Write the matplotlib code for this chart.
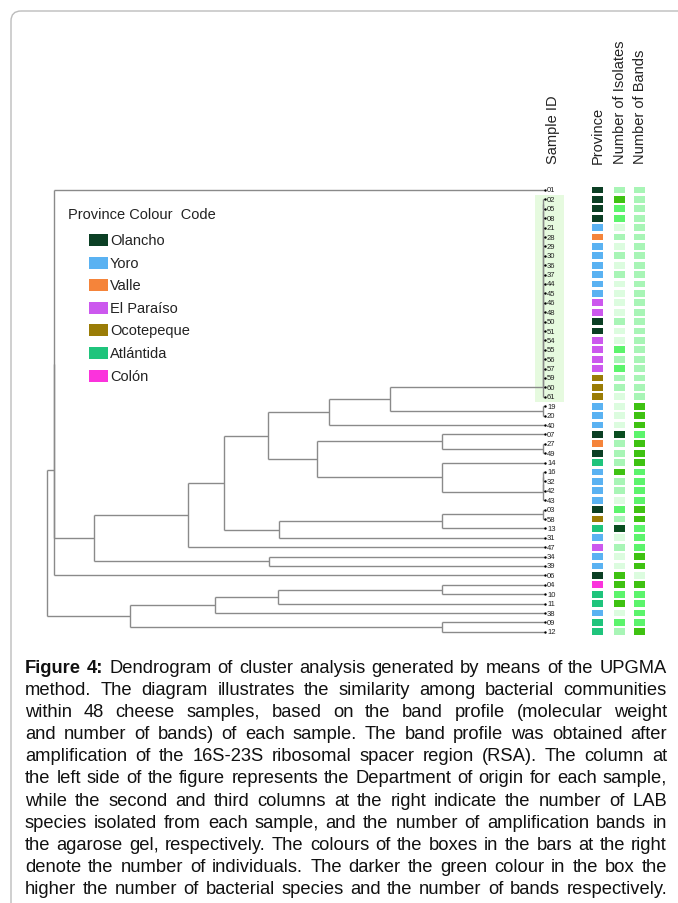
import matplotlib
matplotlib.use('Agg')
import matplotlib.pyplot as plt
from matplotlib.patches import Rectangle, FancyBboxPatch
from matplotlib.font_manager import FontProperties

W, H = 678, 904

# ---------------- data ----------------
sample_ids = ['01', '02', '05', '08', '21', '28', '29', '30', '36', '37', '44', '45',
              '46', '48', '50', '51', '54', '55', '56', '57', '59', '60', '61',
              '19', '20', '40', '07', '27', '49', '14', '16', '32', '42', '43',
              '03', '58', '13', '31', '47', '34', '39', '06', '04', '10', '11',
              '38', '09', '12']

provinces = ['Olancho', 'Olancho', 'Olancho', 'Olancho', 'Yoro', 'Valle', 'Yoro', 'Yoro',
             'Yoro', 'Yoro', 'Yoro', 'Yoro', 'El Paraíso', 'El Paraíso', 'Olancho',
             'Olancho', 'El Paraíso', 'El Paraíso', 'El Paraíso', 'El Paraíso',
             'Ocotepeque', 'Ocotepeque', 'Ocotepeque',
             'Yoro', 'Yoro', 'Yoro', 'Olancho', 'Valle', 'Olancho', 'Atlántida',
             'Yoro', 'Yoro', 'Yoro', 'Yoro', 'Olancho', 'Ocotepeque', 'Atlántida',
             'Yoro', 'El Paraíso', 'Yoro', 'Yoro', 'Olancho', 'Colón', 'Atlántida',
             'Atlántida', 'Yoro', 'Atlántida', 'Atlántida']

# colour level (1 = palest ... 5 = darkest)
isolates = [2, 4, 3, 3, 1, 2, 1, 2, 1, 2, 1, 1, 1, 1, 2,
            1, 1, 3, 2, 3, 2, 2, 1,
            1, 1, 1, 5, 2, 2, 2,
            4, 2, 2, 1, 3, 2, 5, 1, 2, 1, 1, 4, 4, 3, 4, 1, 3, 2]
bands = [2, 2, 2, 2, 2, 2, 2, 2, 2, 2, 2, 2, 2, 2, 2,
         2, 2, 2, 2, 2, 2, 2, 2,
         4, 4, 4, 3, 4, 4, 4,
         3, 3, 3, 3, 4, 4, 3, 3, 3, 4, 4, 1, 4, 3, 3, 3, 3, 4]

legend_provinces = ['Olancho', 'Yoro', 'Valle', 'El Paraíso', 'Ocotepeque', 'Atlántida', 'Colón']
province_colors = {'Olancho': '#0b3f24', 'Yoro': '#5ab2f2', 'Valle': '#f5843a',
                   'El Paraíso': '#cc58ee', 'Ocotepeque': '#9a7c06',
                   'Atlántida': '#1fc47c', 'Colón': '#fb33dc'}
green_levels = {1: '#dcfcdf', 2: '#a8f5b6', 3: '#5cf46c', 4: '#3fc212', 5: '#0a4e20'}

# groups of samples with (near) identical profiles, joined at ~zero distance
zero_groups = [['02', '05', '08', '21', '28', '29', '30', '36', '37', '44', '45', '46',
                '48', '50', '51', '54', '55', '56', '57', '59', '60', '61'],
               ['19', '20'], ['27', '49'], ['16', '32', '42', '43'], ['03', '58']]
zero_dist = 0.004
# UPGMA merges: (node, child 1, child 2, relative distance)
merges = [('A', 'g0', 'g1', 0.311), ('B', 'A', '40', 0.434),
          ('E', '07', 'g2', 0.207), ('F', '14', 'g3', 0.207), ('D', 'E', 'F', 0.458),
          ('C', 'B', 'D', 0.556), ('Hh', 'g4', '13', 0.207), ('G', 'Hh', '31', 0.534),
          ('I', 'C', 'G', 0.645), ('J', 'I', '47', 0.717), ('K', '34', '39', 0.554),
          ('L', 'J', 'K', 0.906), ('M', '01', 'L', 0.985), ('N', 'M', '06', 0.986),
          ('S', '04', '10', 0.207), ('R', 'S', '11', 0.536), ('P', 'R', '38', 0.663),
          ('Q', '09', '12', 0.207), ('O', 'P', 'Q', 0.833), ('root', 'N', 'O', 1.0)]

headers = ['Sample ID', 'Province', 'Number of Isolates', 'Number of Bands']
legend_title = 'Province Colour  Code'
caption_lines = [
    'Figure 4: Dendrogram of cluster analysis generated by means of the UPGMA',
    'method. The diagram illustrates the similarity among bacterial communities',
    'within 48 cheese samples, based on the band profile (molecular weight',
    'and number of bands) of each sample. The band profile was obtained after',
    'amplification of the 16S-23S ribosomal spacer region (RSA). The column at',
    'the left side of the figure represents the Department of origin for each sample,',
    'while the second and third columns at the right indicate the number of LAB',
    'species isolated from each sample, and the number of amplification bands in',
    'the agarose gel, respectively. The colours of the boxes in the bars at the right',
    'denote the number of individuals. The darker the green colour in the box the',
    'higher the number of bacterial species and the number of bands respectively.',
]
bold_words = 2  # "Figure 4:"

# ---------------- figure ----------------
plt.rcParams['font.family'] = ['Liberation Sans', 'DejaVu Sans']
fig = plt.figure(figsize=(W / 100, H / 100), dpi=100)
ax_bg = fig.add_axes([0, 0, 1, 1], zorder=0)
ax_bg.set_xlim(0, W)
ax_bg.set_ylim(H, 0)
ax_bg.axis('off')

n = len(sample_ids)
row0, step = 191.0, 9.4
top_px = row0 - 0.5 * step
bot_px = row0 + (n - 0.5) * step


def px_rect(x0, x1):
    return [x0 / W, 1 - bot_px / H, (x1 - x0) / W, (bot_px - top_px) / H]


ax_r = fig.add_axes(px_rect(530, 678), zorder=1)
ax_r.set_xlim(530, 678)
ax_r.set_ylim(n - 0.5, -0.5)
ax_r.axis('off')
ax_r.patch.set_alpha(0)

ax_d = fig.add_axes(px_rect(47, 545), zorder=2)
ax_d.set_xlim(1.0, 0.0)
ax_d.set_ylim(n - 0.5, -0.5)
ax_d.axis('off')
ax_d.patch.set_alpha(0)

# ---- dendrogram ----
pos = {s: float(i) for i, s in enumerate(sample_ids)}
hgt = {s: 0.0 for s in sample_ids}
line_kw = dict(color='#8a8a8a', lw=1.0, clip_on=False, solid_capstyle='butt')


def draw_merge(node, a, b, h):
    ax_d.plot([h, h], [pos[a], pos[b]], **line_kw)
    for c in (a, b):
        ax_d.plot([h, hgt[c]], [pos[c], pos[c]], **line_kw)
    pos[node] = (pos[a] + pos[b]) / 2
    hgt[node] = h


for k, grp in enumerate(zero_groups):
    cur = grp[0]
    for j, m in enumerate(grp[1:]):
        name = f'g{k}' if j == len(grp) - 2 else f'g{k}_{j}'
        draw_merge(name, cur, m, zero_dist)
        cur = name
for node, a, b, h in merges:
    draw_merge(node, a, b, h)

ax_d.scatter([0.0] * n, range(n), s=3, color='black', zorder=4, clip_on=False, linewidths=0)

# ---- right panel ----
g0 = zero_groups[0]
i0, i1 = sample_ids.index(g0[0]), sample_ids.index(g0[-1])
ax_r.add_patch(Rectangle((535, i0 - 0.5), 29, i1 - i0 + 1, color='#e6fadf', zorder=0, lw=0))
for i, s in enumerate(sample_ids):
    ax_r.text(547, i, s, fontsize=5.5, va='center', ha='left', color='#222222')
rows = list(range(n))
ax_r.barh(rows, 11, left=592, height=0.72, color=[province_colors[p] for p in provinces])
ax_r.barh(rows, 11, left=614, height=0.72, color=[green_levels[v] for v in isolates])
ax_r.barh(rows, 11, left=634, height=0.72, color=[green_levels[v] for v in bands])

# headers
for x, t in zip([553, 597.5, 619.5, 639.5], headers):
    ax_bg.text(x, 164, t, rotation=90, ha='center', va='bottom', fontsize=10.5, color='#222222')

# ---- legend ----
ax_bg.text(68, 215, legend_title, fontsize=10.5, va='center', ha='left', color='#222222')
for k, p in enumerate(legend_provinces):
    yc = 241 + k * 22.6
    ax_bg.add_patch(Rectangle((89, yc - 6), 19, 12, color=province_colors[p], lw=0))
    ax_bg.text(110, yc, p, fontsize=10.5, va='center', ha='left', color='#222222')

# ---- border ----
ax_bg.add_patch(FancyBboxPatch((11, 12), 720, 960, boxstyle='round,pad=0,rounding_size=10',
                               fc='none', ec='#bcbcbc', lw=1.0))

# ---- caption (justified) ----
renderer = fig.canvas.get_renderer()
cap_family = ['Liberation Sans Narrow', 'Liberation Sans', 'DejaVu Sans']
x_left, x_right = 25, 667
target = x_right - x_left


def measure(s, fp):
    t = ax_bg.text(0, 0, s, fontproperties=fp)
    w = t.get_window_extent(renderer=renderer).width
    t.remove()
    return w


size = 14.0
while True:
    fp_n = FontProperties(family=cap_family, size=size)
    fp_b = FontProperties(family=cap_family, size=size, weight='bold')
    sp = measure('a a', fp_n) - measure('aa', fp_n)
    widths = []
    for li, line in enumerate(caption_lines):
        ws = line.split(' ')
        fps = [fp_b if (li == 0 and wi < bold_words) else fp_n for wi in range(len(ws))]
        wl = [measure(w, f) for w, f in zip(ws, fps)]
        widths.append((ws, fps, wl))
    natural = max(sum(wl) + sp * (len(wl) - 1) for _, _, wl in widths)
    if natural <= target or size < 8:
        break
    size -= 0.25

for li, (ws, fps, wl) in enumerate(widths):
    gap = (target - sum(wl)) / (len(wl) - 1)
    x = x_left
    yb = 673 + li * 22.1
    for w, f, ww in zip(ws, fps, wl):
        ax_bg.text(x, yb, w, fontproperties=f, ha='left', va='baseline', color='#111111')
        x += ww + gap

fig.savefig('out.png', dpi=100)
